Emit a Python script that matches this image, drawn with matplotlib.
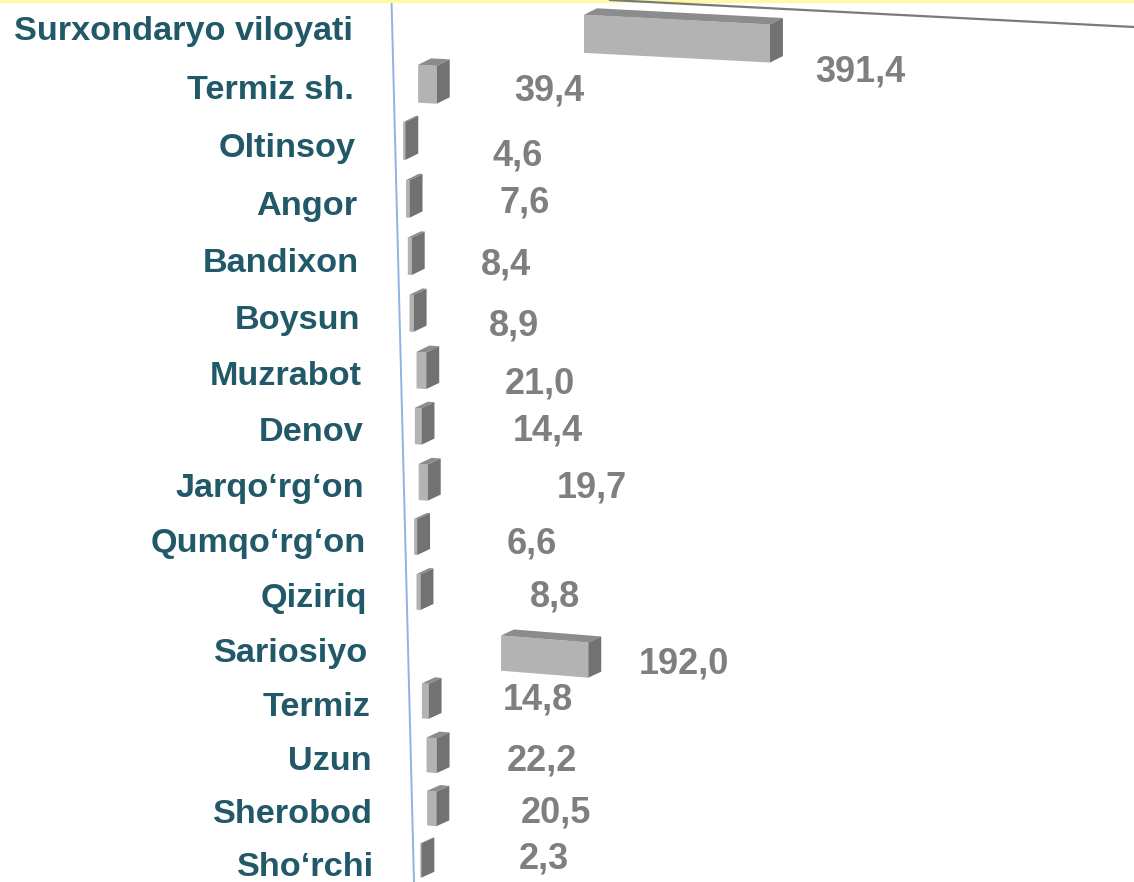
import numpy as np
import matplotlib
matplotlib.use("Agg")
import matplotlib.pyplot as plt
from matplotlib.patches import Polygon, Rectangle
from matplotlib.lines import Line2D
from matplotlib.transforms import offset_copy

# ── data ────────────────────────────────────────────────────────────────
districts = ["Surxondaryo viloyati", "Termiz sh.", "Oltinsoy", "Angor", "Bandixon",
             "Boysun", "Muzrabot", "Denov", "Jarqo‘rg‘on", "Qumqo‘rg‘on", "Qiziriq",
             "Sariosiyo", "Termiz", "Uzun", "Sherobod", "Sho‘rchi"]
values = [391.4, 39.4, 4.6, 7.6, 8.4, 8.9, 21.0, 14.4, 19.7, 6.6, 8.8,
          192.0, 14.8, 22.2, 20.5, 2.3]

# value label placement (x in value units, y shift in rows)
label_x = [441, 128, 105, 113, 93, 101, 118, 126, 172, 120, 144, 258, 116, 120, 135, 133]
label_dy = [0.70, 0.01, 0.13, -0.04, 0.04, 0.10, 0.13, -0.02, -0.01, 0.0, -0.02,
            0.20, -0.13, 0.0, -0.01, -0.15]

# ── layout / style ──────────────────────────────────────────────────────
W, H = 1134, 882
PX = 0.96          # pixels per value unit
X0 = 391.5         # pixel of x = 0 at the top edge
TOP = 28           # pixel row of the first category
A, B = 58.7, 0.2   # perspective of the rows

FRONT = "#b3b3b3"
TOPC = "#8c8c8c"
SIDE = "#727272"
CAT_COLOR = "#215968"
VAL_COLOR = "#7f7f7f"
FONT = ["Liberation Sans", "DejaVu Sans"]

plt.rcParams["font.family"] = FONT


def fwd(p):
    return A * p - B * p ** 2


def inv(y):
    return (A - np.sqrt(np.clip(A * A - 4 * B * y, 0, None))) / (2 * B)


def axis_x(p):
    # the value axis leans a little to the right going down
    return 22.5 / H * (TOP + fwd(p)) / PX


fig = plt.figure(figsize=(W / 100, H / 100), dpi=100)
ax = fig.add_axes([0, 0, 1, 1])
ax.set_yscale("function", functions=(fwd, inv))
ax.set_xlim(-X0 / PX, (W - X0) / PX)
ax.set_ylim(inv(H - TOP), inv(-TOP))
ax.axis("off")

# top decoration
fig.add_artist(Rectangle((0, 1 - 2.5 / H), 1, 2.5 / H, transform=fig.transFigure,
                         facecolor="#fdfb9f", edgecolor="none"))
fig.add_artist(Line2D([610 / W, 1], [1, 1 - 27 / H], transform=fig.transFigure,
                      color="#7a7a7a", lw=1.6))

# value axis line
p_top, p_bot = inv(-TOP), inv(H - TOP)
ax.plot([axis_x(p_top), axis_x(p_bot)], [p_top, p_bot], color="#8eb4e3", lw=1.4,
        solid_capstyle="butt")

# ── 3-d bars ────────────────────────────────────────────────────────────
h = 0.65           # front face height (rows)
ddx, ddy = 13.5, -0.11
base = 6

for i, v in enumerate(values):
    ax0 = axis_x(i)
    shrink = 0.99 * (1 - 0.004 * i)        # rows further down look narrower
    slope = 0.00085 * (1 + 0.06 * i)        # front face sags along x
    x0 = ax0 + base + v / 2 * shrink
    x1 = ax0 + base + v * shrink
    yc = i - 0.07
    t0 = yc - h / 2 + slope * (x0 - ax0)
    t1 = yc - h / 2 + slope * (x1 - ax0)
    b0, b1 = t0 + h, t1 + h
    ax.add_patch(Polygon([(x0, t0), (x1, t1), (x1, b1), (x0, b0)],
                         facecolor=FRONT, edgecolor="none", zorder=3))
    ax.add_patch(Polygon([(x0, t0), (x1, t1), (x1 + ddx, t1 + ddy), (x0 + ddx, t0 + ddy)],
                         facecolor=TOPC, edgecolor="none", zorder=3))
    ax.add_patch(Polygon([(x1, t1), (x1 + ddx, t1 + ddy), (x1 + ddx, b1 + ddy), (x1, b1)],
                         facecolor=SIDE, edgecolor="none", zorder=3))

# ── labels ──────────────────────────────────────────────────────────────
cat_size, val_size = 24.7, 26
cat_tr = offset_copy(ax.transData, fig=fig, y=-0.358 * cat_size, units="points")
val_tr = offset_copy(ax.transData, fig=fig, y=-0.358 * val_size, units="points")

for i, name in enumerate(districts):
    ax.text(axis_x(i) - 41, i, name, ha="right", va="baseline", transform=cat_tr,
            fontsize=cat_size, fontweight="bold", color=CAT_COLOR)

for i, v in enumerate(values):
    ax.text(label_x[i], i + label_dy[i], f"{v:.1f}".replace(".", ","),
            ha="left", va="baseline", transform=val_tr,
            fontsize=val_size, fontweight="bold", color=VAL_COLOR)

plt.savefig("out.png", dpi=100)
